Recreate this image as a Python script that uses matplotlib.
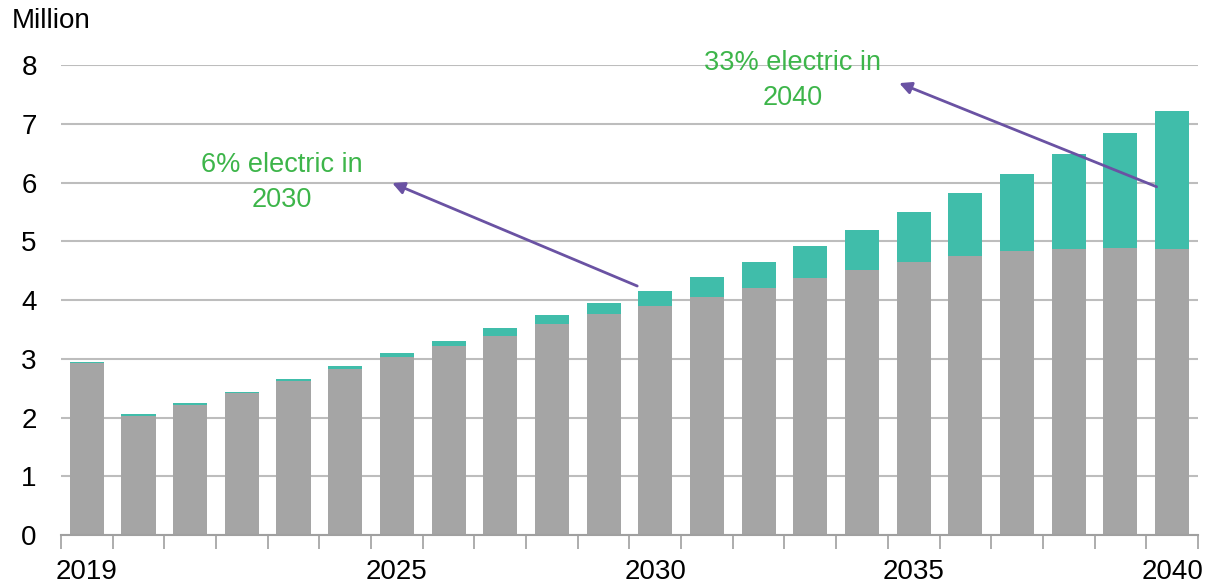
import numpy as np
import matplotlib.pyplot as plt

plt.rcParams['font.family'] = ['Liberation Sans', 'DejaVu Sans']

# Annual sales, million units
years = list(range(2019, 2041))
conventional = [2.93, 2.03, 2.22, 2.42, 2.62, 2.83, 3.03, 3.21, 3.39, 3.60, 3.76,
                3.90, 4.05, 4.21, 4.38, 4.51, 4.65, 4.75, 4.83, 4.86, 4.88, 4.86]
electric = [0.02, 0.03, 0.02, 0.02, 0.04, 0.04, 0.07, 0.10, 0.13, 0.14, 0.19,
            0.25, 0.35, 0.44, 0.54, 0.68, 0.85, 1.08, 1.31, 1.63, 1.97, 2.36]
shown_years = [2019, 2025, 2030, 2035, 2040]

gray = '#a5a5a5'
teal = '#40bdaa'
green = '#3db54a'
purple = '#6a52a3'

fig = plt.figure(figsize=(12.07, 5.87), dpi=100)
ax = fig.add_axes([0.0505, 0.0886, 0.942, 0.8006])

x = np.arange(len(years))
ax.bar(x, conventional, width=0.66, color=gray, zorder=2)
ax.bar(x, electric, width=0.66, bottom=conventional, color=teal, zorder=2)

ax.set_xlim(-0.5, len(years) - 0.5)
ax.set_ylim(0, 8)
ax.set_yticks(range(0, 9))
ax.grid(axis='y', color='#bdbdbd', linewidth=1.5, zorder=0)
ax.tick_params(axis='y', length=0, pad=23, labelsize=20)
for lbl in ax.get_yticklabels():
    lbl.set_horizontalalignment('center')

# boundary ticks between categories, year labels under selected bars
ax.set_xticks(np.arange(-0.5, len(years), 1.0))
ax.set_xticklabels([])
ax.tick_params(axis='x', which='major', length=10, width=1.2, color='#a0a0a0', direction='out')
ax.set_xticks([years.index(y) for y in shown_years], minor=True)
ax.set_xticklabels([str(y) for y in shown_years], minor=True)
ax.tick_params(axis='x', which='minor', length=0, pad=17, labelsize=20)

for side in ['top', 'right', 'left']:
    ax.spines[side].set_visible(False)
ax.spines['bottom'].set_color('#a0a0a0')
ax.spines['bottom'].set_linewidth(1.5)

fig.text(0.01, 0.965, 'Million', fontsize=20, va='center', ha='left')

ax.annotate('', xy=(5.86, 6.01), xytext=(10.7, 4.22),
            arrowprops=dict(arrowstyle='-|>', color=purple, lw=2, mutation_scale=18))
ax.text(3.77, 6.0, '6% electric in\n2030', color=green, fontsize=19.5,
        ha='center', va='center', linespacing=1.45)

ax.annotate('', xy=(15.67, 7.71), xytext=(20.75, 5.91),
            arrowprops=dict(arrowstyle='-|>', color=purple, lw=2, mutation_scale=18))
ax.text(13.66, 7.73, '33% electric in\n2040', color=green, fontsize=19.5,
        ha='center', va='center', linespacing=1.45)

fig.savefig('out.png', dpi=100)
